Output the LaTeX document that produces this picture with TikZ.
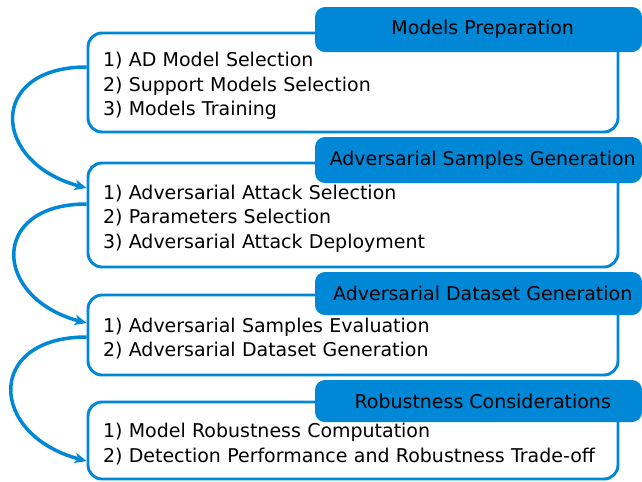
\documentclass[tikz,border=0pt]{standalone}
\usepackage{fontspec}
\setmainfont{DejaVu Sans}
\usetikzlibrary{arrows.meta}
\definecolor{stageblue}{RGB}{0,136,214}
\newcommand{\stagefont}{\fontsize{13.5}{17.4}\selectfont}

\begin{document}
\begin{tikzpicture}[>={Stealth[length=8.5pt, width=7.5pt, inset=2.5pt]},
        stage/.style={draw=stageblue, line width=2.1pt, rounded corners=0.35cm, fill=white,
            minimum width=13.25cm, text width=12.5cm, inner xsep=0.375cm, text height=15pt,
            align=left, font=\stagefont},
        tab/.style={fill=stageblue, rounded corners=0.25cm, minimum width=8.175cm, font=\stagefont,
            execute at begin node=\hspace*{6pt}},
        flow/.style={->, draw=stageblue, line width=2.5pt, out=180, in=165, looseness=2.1}]
        \useasboundingbox (0, 0) rectangle (16.05, -12.025);

        % Models Preparation
        \node[stage, minimum height=2.475cm] (prep) at (8.825, -2.0625)
            {1) AD Model Selection\\2) Support Models Selection\\3) Models Training};
        \node[tab, minimum height=1.125cm] (prepTab) at (11.9625, -0.7375) {Models Preparation};

        % Adversarial Samples Generation
        \node[stage, minimum height=2.6cm] (gen) at (8.825, -5.375)
            {1) Adversarial Attack Selection\\2) Parameters Selection\\3) Adversarial Attack Deployment};
        \node[tab, minimum height=1.15cm] (genTab) at (11.9625, -4.0) {Adversarial Samples Generation};

        % Adversarial Dataset Generation
        \node[stage, minimum height=2.0cm] (data) at (8.825, -8.375)
            {1) Adversarial Samples Evaluation\\2) Adversarial Dataset Generation};
        \node[tab, minimum height=1.075cm] (dataTab) at (11.9625, -7.3375) {Adversarial Dataset Generation};

        % Robustness Considerations
        \node[stage, minimum height=1.925cm] (robust) at (8.825, -11.0125)
            {1) Model Robustness Computation\\2) Detection Performance and Robustness Trade-off};
        \node[tab, minimum height=1.05cm] (robustTab) at (11.9625, -10.025) {Robustness Considerations};

        % Flow between stages
        \draw[flow] ([yshift=0.3875cm]prep.west) to ([yshift=0.675cm]gen.west);
        \draw[flow] ([yshift=0.275cm]gen.west) to ([yshift=0.3cm]data.west);
        \draw[flow] ([yshift=-0.05cm]data.west) to ([yshift=-0.5125cm]robust.west);
    \end{tikzpicture}
\end{document}
